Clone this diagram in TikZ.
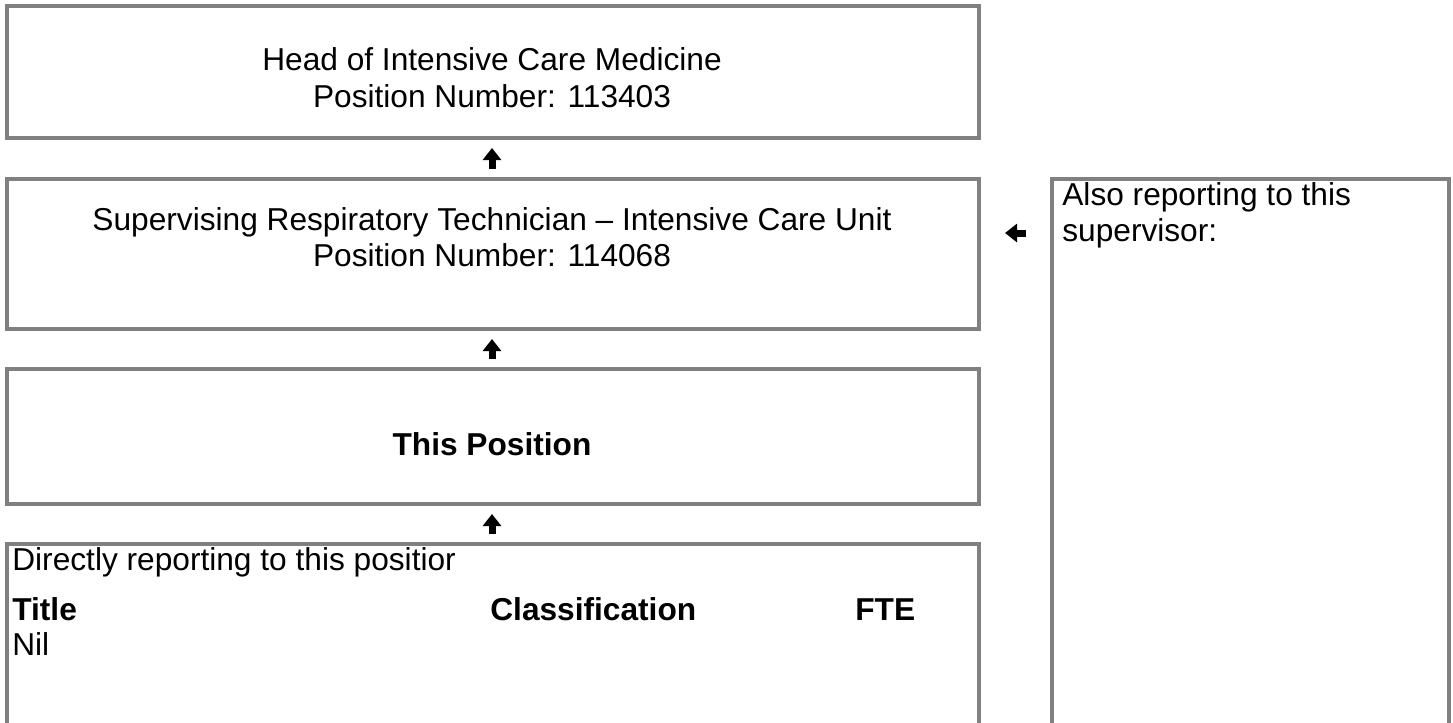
\documentclass[tikz,border=0pt]{standalone}
\usepackage{fontspec}
\setmainfont{Liberation Sans}
\usetikzlibrary{arrows.meta,fit}
\definecolor{boxgray}{HTML}{808080}
\tikzset{
  posbox/.style={draw=boxgray, line width=2.4pt, inner sep=0pt},
  boxtext/.style={font=\fontsize{19pt}{21.6pt}\selectfont, inner sep=0pt, anchor=base},
  linetext/.style={font=\fontsize{19pt}{21.6pt}\selectfont, inner sep=0pt, anchor=base west},
  boldtext/.style={font=\fontsize{19pt}{21.6pt}\selectfont\bfseries},
  reportsto/.style={line width=4.2pt, -{Triangle[width=10.8pt,length=7.2pt]}}
}
\begin{document}
\begin{tikzpicture}[x=0.6pt,y=-0.6pt]
      \useasboundingbox (0,0) rectangle (1453,722);
      \clip (0,0) rectangle (1453,722);
      % position boxes
      \node[posbox, fit={(7,6) (979,138)}] (head) {};
      \node[posbox, fit={(7,179) (979,329)}] (sup) {};
      \node[posbox, fit={(7,369) (979,504)}] (this) {};
      \node[posbox, fit={(7,544) (979,760)}] (direct) {};
      \node[posbox, fit={(1052,179) (1449,760)}] (also) {};
      % texts
      \node[boxtext] (headname) at (492,70) {Head of Intensive Care Medicine};
      \node[boxtext] (headnum) at (492,107) {Position Number: 113403};
      \node[boxtext] (supname) at (492,230) {Supervising Respiratory Technician -- Intensive Care Unit};
      \node[boxtext] (supnum) at (492,266) {Position Number: 114068};
      \node[boxtext, boldtext] (thisname) at (492,455) {This Position};
      \node[linetext] (dirtxt) at (12,570) {Directly reporting to this positior};
      \node[linetext, boldtext] (coltitle) at (12,620) {Title};
      \node[linetext, boldtext] (colclass) at (490,620) {Classification};
      \node[linetext, boldtext] (colfte) at (855,620) {FTE};
      \node[linetext] (niltxt) at (12,655) {Nil};
      \node[linetext] (alsotxt) at (1062,205) {Also reporting to this};
      \node[linetext] (alsotxt2) at (1062,241) {supervisor:};
      % reporting arrows
      \coordinate (ax) at (492,0);
      \coordinate (ly) at (0,233);
      \draw[reportsto, shorten <=4.8pt, shorten >=4.8pt] (sup.north -| ax) -- (head.south -| ax);
      \draw[reportsto, shorten <=4.8pt, shorten >=4.8pt] (this.north -| ax) -- (sup.south -| ax);
      \draw[reportsto, shorten <=4.8pt, shorten >=4.8pt] (direct.north -| ax) -- (this.south -| ax);
      \draw[reportsto, shorten <=14.4pt, shorten >=14.4pt] (also.west |- ly) -- (sup.east |- ly);
\end{tikzpicture}
\end{document}
